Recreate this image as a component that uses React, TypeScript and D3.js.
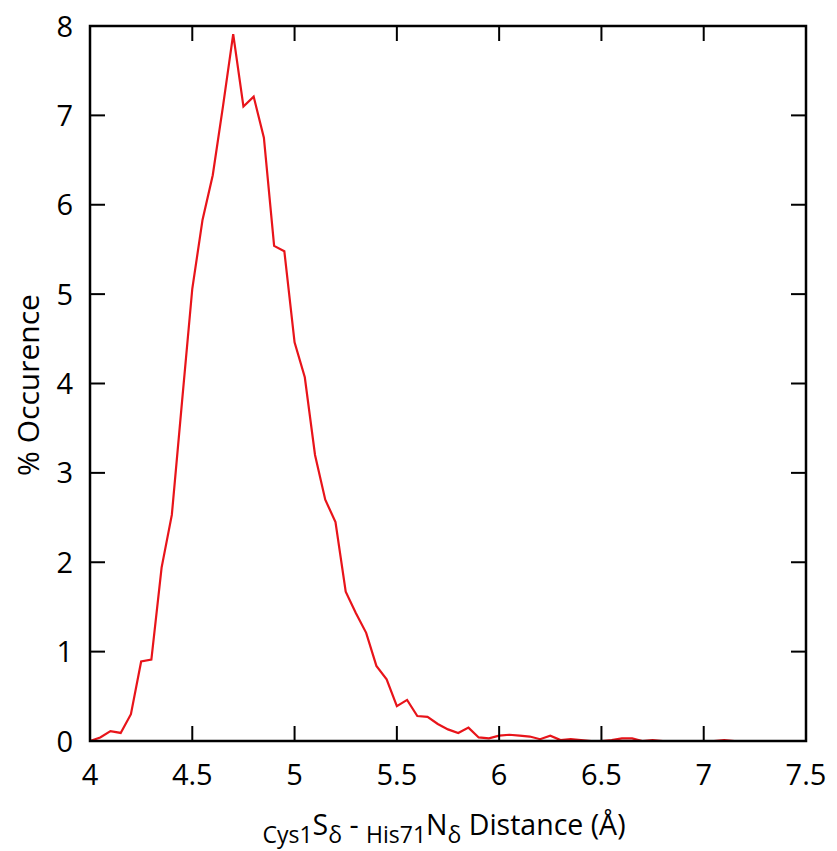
import * as d3 from "d3";
import { useRef, useEffect } from "react";

// distance bins (Å) and % occurence
const distances = [
  4.0, 4.05, 4.1, 4.15, 4.2, 4.25, 4.3, 4.35, 4.4, 4.45,
  4.5, 4.55, 4.6, 4.65, 4.7, 4.75, 4.8, 4.85, 4.9, 4.95,
  5.0, 5.05, 5.1, 5.15, 5.2, 5.25, 5.3, 5.35, 5.4, 5.45,
  5.5, 5.55, 5.6, 5.65, 5.7, 5.75, 5.8, 5.85, 5.9, 5.95,
  6.0, 6.05, 6.1, 6.15, 6.2, 6.25, 6.3, 6.35, 6.4, 6.45,
  6.5, 6.55, 6.6, 6.65, 6.7, 6.75, 6.8, 6.85, 6.9, 6.95,
  7.0, 7.05, 7.1, 7.15,
];
const occurence = [
  0.0, 0.04, 0.11, 0.09, 0.3, 0.89, 0.91, 1.94, 2.53, 3.8,
  5.06, 5.83, 6.33, 7.1, 7.91, 7.1, 7.21, 6.75, 5.54, 5.48,
  4.46, 4.07, 3.2, 2.7, 2.45, 1.67, 1.43, 1.21, 0.84, 0.69,
  0.39, 0.46, 0.28, 0.27, 0.19, 0.13, 0.09, 0.15, 0.04, 0.03,
  0.06, 0.07, 0.06, 0.05, 0.02, 0.06, 0.01, 0.02, 0.01, 0.0,
  0.0, 0.01, 0.03, 0.03, 0.0, 0.01, 0.0, 0.0, 0.0, 0.0,
  0.0, 0.0, 0.01, 0.0,
];
const xTicks = [4, 4.5, 5, 5.5, 6, 6.5, 7, 7.5];
const yTicks = [0, 1, 2, 3, 4, 5, 6, 7, 8];

const FONT = "'Open Sans', 'DejaVu Sans', sans-serif";

function App() {
  const svgRef = useRef<SVGSVGElement | null>(null);

  useEffect(() => {
    const svg = d3.select(svgRef.current);
    svg.selectAll("*").remove();

    const left = 90, right = 806, top = 26, bottom = 741;
    const tick = 15;

    const x = d3.scaleLinear().domain([4, 7.5]).range([left, right]);
    const y = d3.scaleLinear().domain([0, 8]).range([bottom, top]);

    // data line
    const line = d3
      .line<number>()
      .x((v, i) => x(distances[i]))
      .y((v) => y(v));

    svg.append("path")
      .datum(occurence)
      .attr("d", line)
      .attr("fill", "none")
      .attr("stroke", "#e8141a")
      .attr("stroke-width", 2.2)
      .attr("stroke-linejoin", "miter");

    // ticks on all four sides, pointing in
    const g = svg.append("g").attr("stroke", "#000").attr("stroke-width", 2);
    xTicks.slice(1, -1).forEach((t) => {
      g.append("line").attr("x1", x(t)).attr("x2", x(t)).attr("y1", bottom).attr("y2", bottom - tick);
      g.append("line").attr("x1", x(t)).attr("x2", x(t)).attr("y1", top).attr("y2", top + tick);
    });
    yTicks.slice(1, -1).forEach((t) => {
      g.append("line").attr("x1", left).attr("x2", left + tick).attr("y1", y(t)).attr("y2", y(t));
      g.append("line").attr("x1", right).attr("x2", right - tick).attr("y1", y(t)).attr("y2", y(t));
    });

    svg.append("rect")
      .attr("x", left)
      .attr("y", top)
      .attr("width", right - left)
      .attr("height", bottom - top)
      .attr("fill", "none")
      .attr("stroke", "#000")
      .attr("stroke-width", 2.5);

    // tick labels
    svg.append("g")
      .selectAll("text")
      .data(xTicks)
      .join("text")
      .attr("x", (d) => x(d))
      .attr("y", 785)
      .attr("text-anchor", "middle")
      .attr("font-family", FONT)
      .attr("font-size", 29)
      .text((d) => String(d));

    svg.append("g")
      .selectAll("text")
      .data(yTicks)
      .join("text")
      .attr("x", 73)
      .attr("y", (d) => y(d) + 10.5)
      .attr("text-anchor", "end")
      .attr("font-family", FONT)
      .attr("font-size", 29)
      .text((d) => String(d));

    // y title
    svg.append("text")
      .attr("transform", "translate(39,385) rotate(-90)")
      .attr("text-anchor", "middle")
      .attr("font-family", FONT)
      .attr("font-size", 30)
      .text("% Occurence");

    // x title with subscripts
    const xt = svg.append("text")
      .attr("x", 444)
      .attr("y", 835)
      .attr("text-anchor", "middle")
      .attr("font-family", FONT)
      .attr("font-size", 28.5);
    xt.append("tspan").attr("font-size", 23).attr("dy", 8).text("Cys1");
    xt.append("tspan").attr("dy", -8).text("S");
    xt.append("tspan").attr("font-size", 23).attr("dy", 8).text("δ");
    xt.append("tspan").attr("dy", -8).text(" - ");
    xt.append("tspan").attr("font-size", 23).attr("dy", 8).text("His71");
    xt.append("tspan").attr("dy", -8).text("N");
    xt.append("tspan").attr("font-size", 23).attr("dy", 8).text("δ");
    xt.append("tspan").attr("dy", -8).text(" Distance (Å)");
  }, []);

  return (
    <svg
      ref={svgRef}
      width={837}
      height={851}
      style={{ position: "absolute", left: 0, top: 0, background: "#fff" }}
    />
  );
}

export default App;
